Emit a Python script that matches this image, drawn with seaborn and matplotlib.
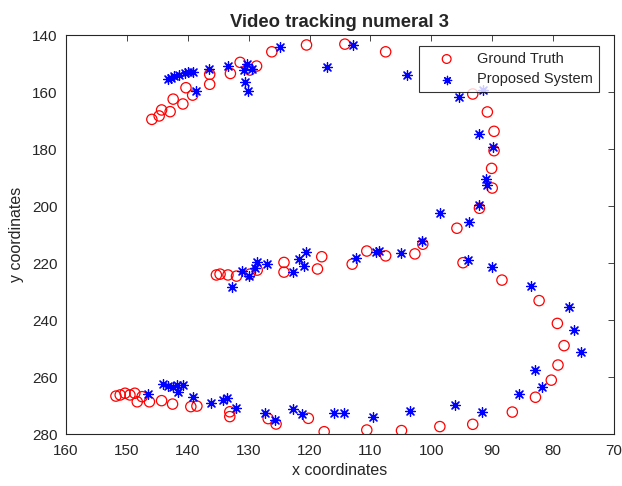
import matplotlib
matplotlib.use("Agg")
import matplotlib.pyplot as plt
import seaborn as sns
import pandas as pd

# Ground truth (red circles)
gt_x = [145.9, 144.7, 144.3, 142.9, 142.4, 140.8, 140.3, 139.2, 136.4, 136.4,
        133.0, 131.4, 129.8, 128.7, 126.2, 120.5, 114.2, 107.5,
        93.2, 90.8, 89.7, 89.7, 90.1, 90.0, 92.1, 95.8, 101.4, 94.8, 88.4,
        82.3, 79.3, 78.2, 79.2, 80.3, 82.9, 86.7, 93.2, 98.6, 104.9, 110.6,
        117.6, 120.2, 125.5, 126.8, 133.1, 133.1, 138.5, 139.5, 142.5, 144.3,
        146.3, 147.5, 148.3, 148.7, 149.5, 150.3, 151.1, 151.8,
        102.7, 107.5, 110.6, 113.0, 118.0, 118.7, 124.2, 124.2, 128.6, 129.8,
        132.0, 133.4, 134.7, 135.3]
gt_y = [169.6, 168.4, 166.3, 166.9, 162.5, 164.2, 158.5, 161.1, 153.8, 157.3,
        153.5, 149.6, 152.3, 150.9, 145.9, 143.5, 143.2, 145.9,
        160.7, 167.0, 173.8, 180.6, 186.8, 193.7, 200.8, 207.8, 213.4, 219.9, 226.0,
        233.2, 241.2, 249.0, 255.8, 261.1, 267.1, 272.3, 276.6, 277.4, 278.8, 278.6,
        279.2, 274.5, 276.5, 274.6, 272.2, 273.9, 270.2, 270.4, 269.5, 268.3,
        268.7, 266.9, 268.7, 265.7, 266.3, 265.7, 266.3, 266.7,
        216.8, 217.5, 215.8, 220.4, 217.8, 222.1, 219.8, 223.2, 222.5, 223.9,
        224.6, 224.2, 223.9, 224.2]

# Proposed system (blue asterisks)
ps_x = [143.3, 142.7, 142.2, 141.5, 140.5, 140.0, 139.1, 138.7, 136.5, 133.4,
        130.8, 130.3, 130.6, 130.1, 129.4, 124.9, 117.1, 112.8, 104.0, 95.4,
        91.5, 92.1, 89.8, 91.1, 90.8, 92.1, 98.5, 93.8, 101.6, 94.0, 90.1,
        83.6, 77.4, 76.6, 75.5, 82.9, 81.8, 85.6, 96.1, 91.7,
        105.0, 108.6, 109.1, 112.4, 120.6, 121.7, 120.9, 122.7, 127.0, 128.7,
        128.9, 131.1, 130.0, 132.8,
        146.5, 144.0, 143.2, 142.5, 141.8, 141.6, 140.8, 139.2, 136.2, 134.2,
        133.5, 132.1, 127.3, 125.6, 122.7, 121.2, 116.0, 114.3, 109.6, 103.5]
ps_y = [155.5, 155.0, 154.5, 154.0, 153.4, 152.9, 153.1, 159.6, 151.9, 150.8,
        152.3, 150.3, 156.4, 159.6, 152.0, 144.1, 151.1, 143.5, 154.0, 161.6,
        159.3, 174.7, 179.4, 190.6, 192.6, 199.8, 202.6, 205.5, 212.2, 218.9, 221.5,
        228.1, 235.3, 243.5, 251.1, 257.5, 263.4, 266.0, 269.8, 272.3,
        216.4, 215.7, 216.0, 218.4, 216.3, 218.7, 221.1, 223.0, 220.5, 219.5,
        221.6, 222.8, 224.6, 228.5,
        266.1, 262.5, 263.1, 263.4, 262.9, 265.1, 262.8, 266.9, 269.0, 268.1,
        267.3, 271.0, 272.7, 275.2, 271.1, 273.1, 272.5, 272.5, 274.1, 271.9]

x_ticks = [160, 150, 140, 130, 120, 110, 100, 90, 80, 70]
y_ticks = [140, 160, 180, 200, 220, 240, 260, 280]

sns.set_theme(style="white")
plt.rcParams['font.family'] = ['Liberation Sans', 'DejaVu Sans']

fig = plt.figure(figsize=(6.22, 4.86), dpi=100)
ax = fig.add_axes([66/622, 1-434/486, (614-66)/622, (434-35)/486])

gt = pd.DataFrame({"x": gt_x, "y": gt_y})
ps = pd.DataFrame({"x": ps_x, "y": ps_y})

sns.scatterplot(data=gt, x="x", y="y", ax=ax, marker="o", s=55,
                facecolors="none", edgecolor="red", linewidth=0.9,
                label="Ground Truth")
sns.scatterplot(data=ps, x="x", y="y", ax=ax, marker=(8, 2, 0), s=50,
                color="blue", linewidth=0.9, label="Proposed System")

ax.set_xlim(160, 70)
ax.set_ylim(280, 140)
ax.set_xticks(x_ticks)
ax.set_yticks(y_ticks)
ax.tick_params(direction="in", top=True, right=True, length=4, width=0.6,
               labelsize=11, colors="#262626")
ax.tick_params(axis="x", pad=7)
ax.tick_params(axis="y", pad=6)
for sp in ax.spines.values():
    sp.set_color("#262626")
    sp.set_linewidth(0.8)
    sp.set_visible(True)

ax.set_xlabel("x coordinates", fontsize=11.5, labelpad=4)
ax.set_ylabel("y coordinates", fontsize=11.5, labelpad=6)
ax.set_title("Video tracking numeral 3", fontsize=13.3, fontweight="bold", pad=6)

leg = ax.legend(loc="upper right", bbox_to_anchor=((599-66)/548, (434-46)/399),
                borderaxespad=0, fontsize=10.5,
                frameon=True, fancybox=False, edgecolor="black",
                borderpad=0.4, labelspacing=0.45, handletextpad=0.6,
                handlelength=3.0, markerscale=0.85)
leg.get_frame().set_linewidth(0.8)

fig.savefig("out.png", dpi=100)
